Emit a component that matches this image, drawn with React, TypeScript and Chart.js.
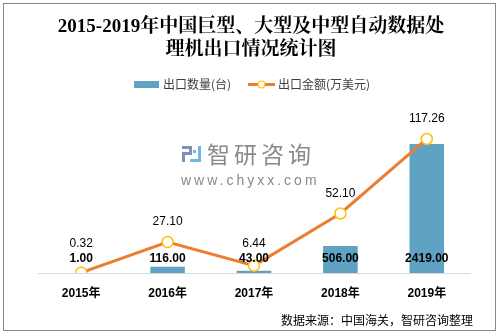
import React, { useEffect, useRef } from "react";
import { Chart, registerables } from "chart.js";

Chart.register(...registerables);

const categories = ["2015年", "2016年", "2017年", "2018年", "2019年"];
const quantity = [1, 116, 43, 506, 2419];
const amount = [0.32, 27.1, 6.44, 52.1, 117.26];
const titleLines = ["2015-2019年中国巨型、大型及中型自动数据处", "理机出口情况统计图"];
const seriesNames = ["出口数量(台)", "出口金额(万美元)"];
const sourceText = "数据来源：中国海关，智研咨询整理";
const watermarkCn = "智研咨询";
const watermarkUrl = "www.chyxx.com";

const BAR_COLOR = "#5FA2C3";
const LINE_COLOR = "#ED7D31";
const POINT_BORDER = "#FFC000";
const SANS = '"Liberation Sans", Arial, "Noto Sans CJK SC", sans-serif';
const CJK = '"Noto Sans CJK SC", "Liberation Sans", sans-serif';
const SERIF = '"Liberation Serif", "Noto Serif CJK SC", "Noto Sans CJK SC", serif';

const decor = {
  id: "decor",
  beforeDraw(chart: any) {
    const { ctx, width, height } = chart;
    ctx.save();
    ctx.fillStyle = "#ffffff";
    ctx.fillRect(0, 0, width, height);
    ctx.restore();
  },
  beforeDatasetsDraw(chart: any) {
    const { ctx } = chart;
    ctx.save();
    // watermark icon
    ctx.fillStyle = "#8190B4";
    ctx.fillRect(182, 146, 10, 3);
    ctx.fillRect(189, 146, 3, 9);
    ctx.fillRect(182, 152, 10, 3);
    ctx.fillRect(182, 152, 3, 10);
    ctx.fillStyle = "#6DB8E6";
    ctx.fillRect(198, 146, 3, 16);
    ctx.fillRect(190, 159, 11, 3);
    ctx.fillRect(193, 150, 3, 3);
    // watermark text
    ctx.fillStyle = "#8A8A8A";
    ctx.textBaseline = "middle";
    ctx.textAlign = "left";
    ctx.font = `23px ${CJK}`;
    (ctx as any).letterSpacing = "4px";
    ctx.fillText(watermarkCn, 207, 154);
    ctx.font = `14px ${SANS}`;
    (ctx as any).letterSpacing = "3px";
    ctx.fillText(watermarkUrl, 181, 181);
    (ctx as any).letterSpacing = "0px";
    ctx.restore();
  },
  afterDatasetsDraw(chart: any) {
    const { ctx } = chart;
    const barMeta = chart.getDatasetMeta(0);
    const lineMeta = chart.getDatasetMeta(1);
    ctx.save();
    ctx.textAlign = "center";
    ctx.textBaseline = "middle";
    const barLabelY: number[] = [];
    barMeta.data.forEach((el: any, i: number) => {
      const y = el.base - 14;
      barLabelY.push(y);
      ctx.fillStyle = "#000000";
      ctx.font = `bold 12px ${SANS}`;
      ctx.fillText(quantity[i].toFixed(2), el.x, y);
    });
    lineMeta.data.forEach((el: any, i: number) => {
      let y = el.y - 20;
      if (Math.abs(y - barLabelY[i]) < 14) y = barLabelY[i] - 15;
      ctx.fillStyle = "#000000";
      ctx.font = `12px ${SANS}`;
      ctx.fillText(amount[i].toFixed(2), el.x, y);
    });
    ctx.restore();
  },
  afterDraw(chart: any) {
    const { ctx } = chart;
    ctx.save();
    // title
    ctx.fillStyle = "#000000";
    ctx.textAlign = "center";
    ctx.textBaseline = "middle";
    ctx.font = `bold 19px ${SERIF}`;
    ctx.fillText(titleLines[0], 251, 27);
    ctx.fillText(titleLines[1], 251, 50);
    // legend
    ctx.font = `12px ${CJK}`;
    ctx.textAlign = "left";
    ctx.fillStyle = BAR_COLOR;
    ctx.fillRect(134, 81, 25, 7);
    ctx.fillStyle = "#404040";
    ctx.fillText(seriesNames[0], 163, 84.5);
    ctx.strokeStyle = LINE_COLOR;
    ctx.lineWidth = 3;
    ctx.beginPath();
    ctx.moveTo(248, 84.5);
    ctx.lineTo(275, 84.5);
    ctx.stroke();
    ctx.beginPath();
    ctx.arc(261.5, 84.5, 3.5, 0, Math.PI * 2);
    ctx.fillStyle = "#ffffff";
    ctx.fill();
    ctx.lineWidth = 1.2;
    ctx.strokeStyle = POINT_BORDER;
    ctx.stroke();
    ctx.fillStyle = "#404040";
    ctx.fillText(seriesNames[1], 278, 84.5);
    // source
    ctx.fillStyle = "#000000";
    ctx.textAlign = "right";
    ctx.fillText(sourceText, 473, 320);
    // border
    ctx.strokeStyle = "#868686";
    ctx.lineWidth = 1;
    ctx.strokeRect(3.5, 3.5, 492, 327);
    ctx.restore();
  },
};

export default function App() {
  const canvasRef = useRef<HTMLCanvasElement | null>(null);

  useEffect(() => {
    if (!canvasRef.current) return;
    const chart = new Chart(canvasRef.current, {
      type: "bar",
      data: {
        labels: categories,
        datasets: [
          {
            type: "bar",
            label: seriesNames[0],
            data: quantity,
            backgroundColor: BAR_COLOR,
            yAxisID: "y",
            barPercentage: 0.4,
            categoryPercentage: 1,
            order: 1,
          },
          {
            type: "line",
            label: seriesNames[1],
            data: amount,
            borderColor: LINE_COLOR,
            borderWidth: 3,
            pointRadius: 5.5,
            pointBorderWidth: 1.5,
            pointBackgroundColor: "#ffffff",
            pointBorderColor: POINT_BORDER,
            yAxisID: "y1",
            tension: 0,
            order: 0,
          } as any,
        ],
      },
      options: {
        responsive: false,
        animation: false,
        devicePixelRatio: 1,
        layout: { padding: { left: 38, right: 30, top: 113, bottom: 0 } },
        plugins: {
          legend: { display: false },
          title: { display: false },
          tooltip: { enabled: false },
        },
        scales: {
          x: {
            grid: { display: false },
            border: { display: true, color: "#D9D9D9", width: 1 },
            ticks: {
              color: "#000000",
              font: { size: 12, weight: "bold", family: SANS },
              padding: 5,
            },
            afterFit: (scale: any) => {
              scale.height = 62;
            },
          },
          y: { display: false, min: 0, max: 3000 },
          y1: { display: false, min: 0, max: 140, position: "right" },
        },
      },
      plugins: [decor],
    });
    return () => chart.destroy();
  }, []);

  return (
    <div style={{ position: "fixed", left: 0, top: 0, width: 500, height: 335 }}>
      <canvas ref={canvasRef} width={500} height={335} />
    </div>
  );
}
